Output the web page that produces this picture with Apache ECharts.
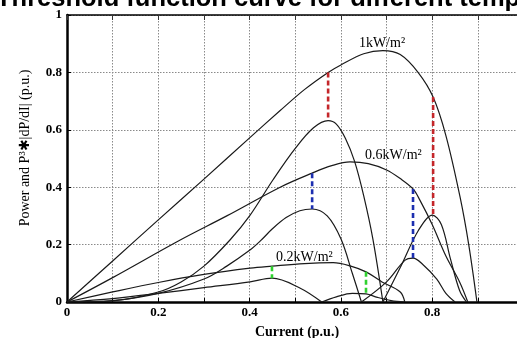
<!DOCTYPE html>
<html>
<head>
<meta charset="utf-8">
<script src="https://cdn.jsdelivr.net/npm/echarts@6/dist/echarts.min.js"></script>
<style>
  html, body { margin: 0; padding: 0; background: #fff; }
  #chart { width: 517px; height: 338px; }
</style>
</head>
<body>
<div id="chart"></div>
<script>
// Power curves P(I) for three irradiance levels, [current, power] in p.u.
const power1kW = [[0,0],[0.1,0.143],[0.2,0.286],[0.3,0.428],[0.4,0.572],[0.467,0.667],[0.52,0.74],[0.572,0.80],[0.6,0.826],[0.65,0.865],[0.692,0.876],[0.73,0.862],[0.769,0.80],[0.802,0.714],[0.83,0.58],[0.861,0.366],[0.88,0.2],[0.898,0]];
const power06kW = [[0,0],[0.1,0.085],[0.248,0.216],[0.35,0.30],[0.467,0.40],[0.537,0.449],[0.58,0.475],[0.62,0.488],[0.66,0.482],[0.70,0.46],[0.73,0.43],[0.758,0.394],[0.773,0.355],[0.80,0.27],[0.83,0.16],[0.86,0.07],[0.878,0]];
const power02kW = [[0,0],[0.1,0.035],[0.2,0.068],[0.3,0.096],[0.401,0.118],[0.449,0.125],[0.52,0.134],[0.583,0.137],[0.62,0.126],[0.655,0.105],[0.69,0.07],[0.73,0.035],[0.74,0]];

// Threshold function P^3*|dP/dI|, one array per hump on each side of the MPP
const thr1kWLeft = [[0,0],[0.1,0.004],[0.2,0.035],[0.25,0.07],[0.3,0.125],[0.357,0.216],[0.4,0.30],[0.451,0.425],[0.5,0.535],[0.54,0.607],[0.572,0.632],[0.59,0.62],[0.61,0.57],[0.63,0.49],[0.65,0.37],[0.67,0.22],[0.692,0]];
const thr1kWRight = [[0.692,0],[0.73,0.12],[0.77,0.25],[0.80,0.303],[0.82,0.27],[0.84,0.15],[0.86,0.04],[0.875,0]];
const thr06kWLeft = [[0,0],[0.1,0.005],[0.2,0.03],[0.3,0.08],[0.35,0.125],[0.4,0.18],[0.423,0.212],[0.45,0.255],[0.48,0.294],[0.51,0.318],[0.537,0.324],[0.57,0.30],[0.60,0.22],[0.625,0.10],[0.645,0]];
const thr06kWRight = [[0.645,0],[0.70,0.07],[0.74,0.145],[0.758,0.153],[0.78,0.13],[0.81,0.08],[0.83,0.03],[0.85,0]];
const thr02kWLeft = [[0,0],[0.1,0.012],[0.2,0.03],[0.3,0.05],[0.401,0.07],[0.449,0.083],[0.51,0.049],[0.558,0]];
const thr02kWRight = [[0.558,0],[0.59,0.018],[0.625,0.03],[0.655,0.028],[0.68,0.016],[0.71,0.005],[0.74,0]];

// Vertical markers linking each power curve to its threshold peaks: [current, top, bottom]
const redMarks = [[0.572,0.80,0.632],[0.802,0.714,0.303]];
const blueMarks = [[0.537,0.449,0.324],[0.758,0.394,0.153]];
const greenMarks = [[0.449,0.125,0.083],[0.655,0.105,0.028]];

// Curve captions: [text, current, value]
const captions = [['1kW/m\u00B2',0.690,0.902],['0.6kW/m\u00B2',0.715,0.51],['0.2kW/m\u00B2',0.52,0.157]];

const xTickValues = [0,0.2,0.4,0.6,0.8,1];
const yTickValues = [0,0.2,0.4,0.6,0.8,1];

const titleText = 'Threshold function curve for different temperatures';
const xName = 'Current (p.u.)';
const yName = 'Power and P\u00B3\u2731|dP/dI| (p.u.)';

const serif = '"Liberation Serif", "DejaVu Serif", serif';
const curveColor = '#1a1a1a';

function curve(data) {
  return {
    type: 'line', data: data, smooth: 0.35, symbol: 'none', silent: true,
    lineStyle: { color: curveColor, width: 1.2 }, z: 3
  };
}
function marks(list, color) {
  return list.map(m => ({
    type: 'line', data: [[m[0], m[1]], [m[0], m[2]]], symbol: 'none', silent: true,
    lineStyle: { color: color, width: 2.6, type: [5, 3] }, z: 4
  }));
}
function fmt(v) {
  const s = +v.toFixed(1);
  return xTickValues.includes(s) || yTickValues.includes(s) ? String(s) : '';
}

const chart = echarts.init(document.getElementById('chart'), null, { renderer: 'canvas' });

const gridLine = { show: true, lineStyle: { color: '#8a8a8a', type: [1.5, 1.5], width: 1 } };

chart.setOption({
  animation: false,
  backgroundColor: '#fff',
  grid: { left: 67, top: 15, right: -6.5, bottom: 36, containLabel: false, outerBoundsMode: 'none' },
  xAxis: [{
    type: 'value', min: 0, max: 1, interval: 0.2,
    axisLine: { show: true, onZero: false, lineStyle: { color: '#000', width: 2.5 } },
    axisTick: { show: true, inside: true, length: 4, lineStyle: { color: '#000' } },
    minorTick: { show: true, splitNumber: 2, length: 4, lineStyle: { color: '#000' } },
    splitLine: gridLine,
    minorSplitLine: gridLine,
    axisLabel: { formatter: fmt, color: '#000', fontFamily: serif, fontSize: 13, fontWeight: 'bold', margin: 4 }
  }, {
    type: 'value', min: 0, max: 1, interval: 0.1, position: 'top',
    axisLine: { show: true, onZero: false, lineStyle: { color: '#000', width: 1.5 } },
    axisTick: { show: true, inside: true, length: 5, lineStyle: { color: '#333' } },
    axisLabel: { show: false }, splitLine: { show: false }
  }],
  yAxis: [{
    type: 'value', min: 0, max: 1, interval: 0.2,
    axisLine: { show: true, onZero: false, lineStyle: { color: '#000', width: 2.5 } },
    axisTick: { show: true, inside: true, length: 4, lineStyle: { color: '#000' } },
    splitLine: gridLine,
    axisLabel: { formatter: fmt, color: '#000', fontFamily: serif, fontSize: 13, fontWeight: 'bold', margin: 5 }
  }],
  series: [
    curve(power1kW), curve(power06kW), curve(power02kW),
    curve(thr1kWLeft), curve(thr1kWRight),
    curve(thr06kWLeft), curve(thr06kWRight),
    curve(thr02kWLeft), curve(thr02kWRight),
    ...marks(redMarks, '#c4262a'),
    ...marks(blueMarks, '#1c2fb0'),
    ...marks(greenMarks, '#2fd12f')
  ]
});

// Captions, axis names and the heading, placed through the chart's own coordinate system
const graphics = captions.map(c => {
  const p = chart.convertToPixel({ gridIndex: 0 }, [c[1], c[2]]);
  return {
    type: 'text', x: p[0], y: p[1], z: 10,
    style: { text: c[0], fill: '#000', font: '14px ' + serif, align: 'center', verticalAlign: 'middle' }
  };
});
graphics.push({
  type: 'text', x: 297, y: 332, z: 10,
  style: { text: xName, fill: '#000', font: 'bold 14px ' + serif, align: 'center', verticalAlign: 'middle' }
});
graphics.push({
  type: 'text', x: 25, y: 148, rotation: Math.PI / 2, z: 10,
  style: { text: yName, fill: '#000', font: '14px ' + serif, align: 'center', verticalAlign: 'middle' }
});
graphics.push({
  type: 'text', x: -4, y: 12, z: 10,
  style: { text: titleText, fill: '#000', font: 'bold 25.5px "Liberation Sans", Arial, sans-serif', align: 'left', verticalAlign: 'bottom' }
});
chart.setOption({ graphic: graphics });
</script>
</body>
</html>
